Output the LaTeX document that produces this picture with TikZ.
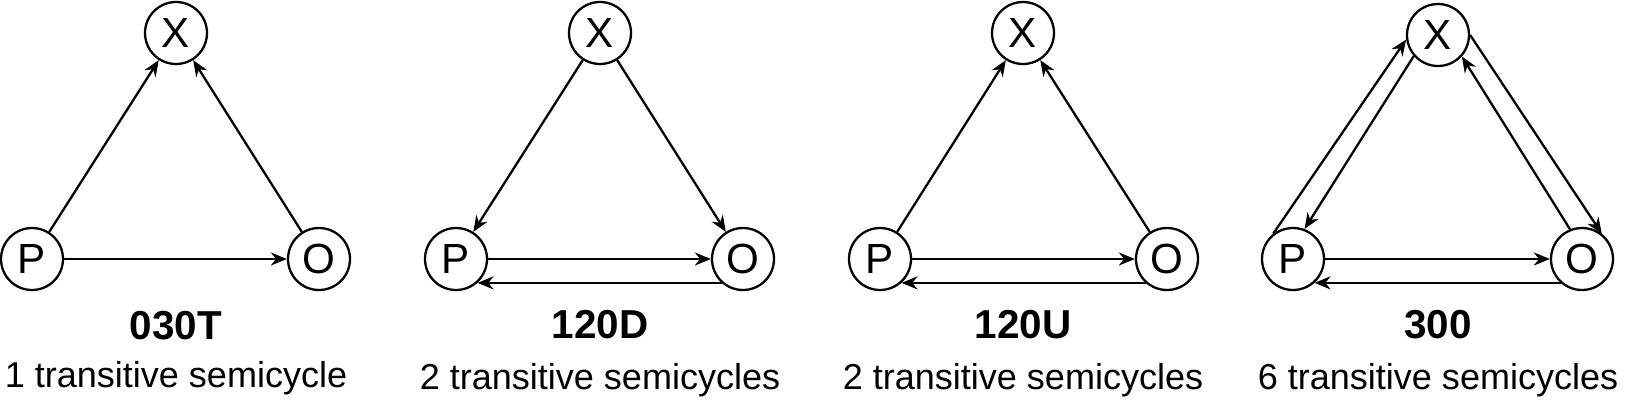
\documentclass[tikz,border=0pt]{standalone}
\usepackage{fontspec}
\setmainfont{Liberation Sans}
\usetikzlibrary{arrows.meta}

\begin{document}
\begin{tikzpicture}[x=0.02cm, y=-0.02cm, line width=1.3pt, >={Stealth[length=0.32cm, width=0.26cm]},
	vertex/.style={shape=circle, draw=black, minimum size=1.24cm, inner sep=0pt, font=\fontsize{24}{24}\selectfont},
	title/.style={font=\fontsize{23}{23}\selectfont\bfseries},
	caption/.style={font=\fontsize{20.5}{21}\selectfont}]
	\useasboundingbox (0,0) rectangle (1627,403);
		\node[vertex] (X1) at (176,33) {X};
		\node[vertex] (P1) at (32,259) {P};
		\node[vertex] (O1) at (319,259) {O};
		\node[vertex] (X2) at (600,33) {X};
		\node[vertex] (P2) at (456,259) {P};
		\node[vertex] (O2) at (743,259) {O};
		\node[vertex] (X3) at (1023,33) {X};
		\node[vertex] (P3) at (880,259) {P};
		\node[vertex] (O3) at (1167,259) {O};
		\node[vertex] (X4) at (1438,35) {X};
		\node[vertex] (P4) at (1293,259) {P};
		\node[vertex] (O4) at (1582,259) {O};
		
		\node[title] (T1) at (176,326) {030T};
		\node[title] (T2) at (600,325) {120D};
		\node[title] (T3) at (1023,325) {120U};
		\node[title] (T4) at (1438,325) {300};
		\node[caption] (C1) at (176,378) {1 transitive semicycle};
		\node[caption] (C2) at (600,380) {2 transitive semicycles};
		\node[caption] (C3) at (1023,380) {2 transitive semicycles};
		\node[caption] (C4) at (1438,380) {6 transitive semicycles};
		
		% 030T
		\path[->](P1) edge (X1);
		\path[->](O1) edge (X1);
		\path[->](P1) edge (O1);
		% 120D
		\path[->](X2) edge (P2);
		\path[->](X2) edge (O2);
		\path[->](P2) edge (O2);
		\path[->](O2.228) edge (P2.-48);
		% 120U
		\path[->](P3) edge (X3);
		\path[->](O3) edge (X3);
		\path[->](P3) edge (O3);
		\path[->](O3.228) edge (P3.-48);
		% 300
		\path[->](P4.128) edge (X4.188);
		\path[->](X4.221) edge (P4.69);
		\path[->](X4.0) edge (O4.52);
		\path[->](O4.112) edge (X4.318);
		\path[->](P4) edge (O4);
		\path[->](O4.228) edge (P4.-48);
		
	\end{tikzpicture}
\end{document}
